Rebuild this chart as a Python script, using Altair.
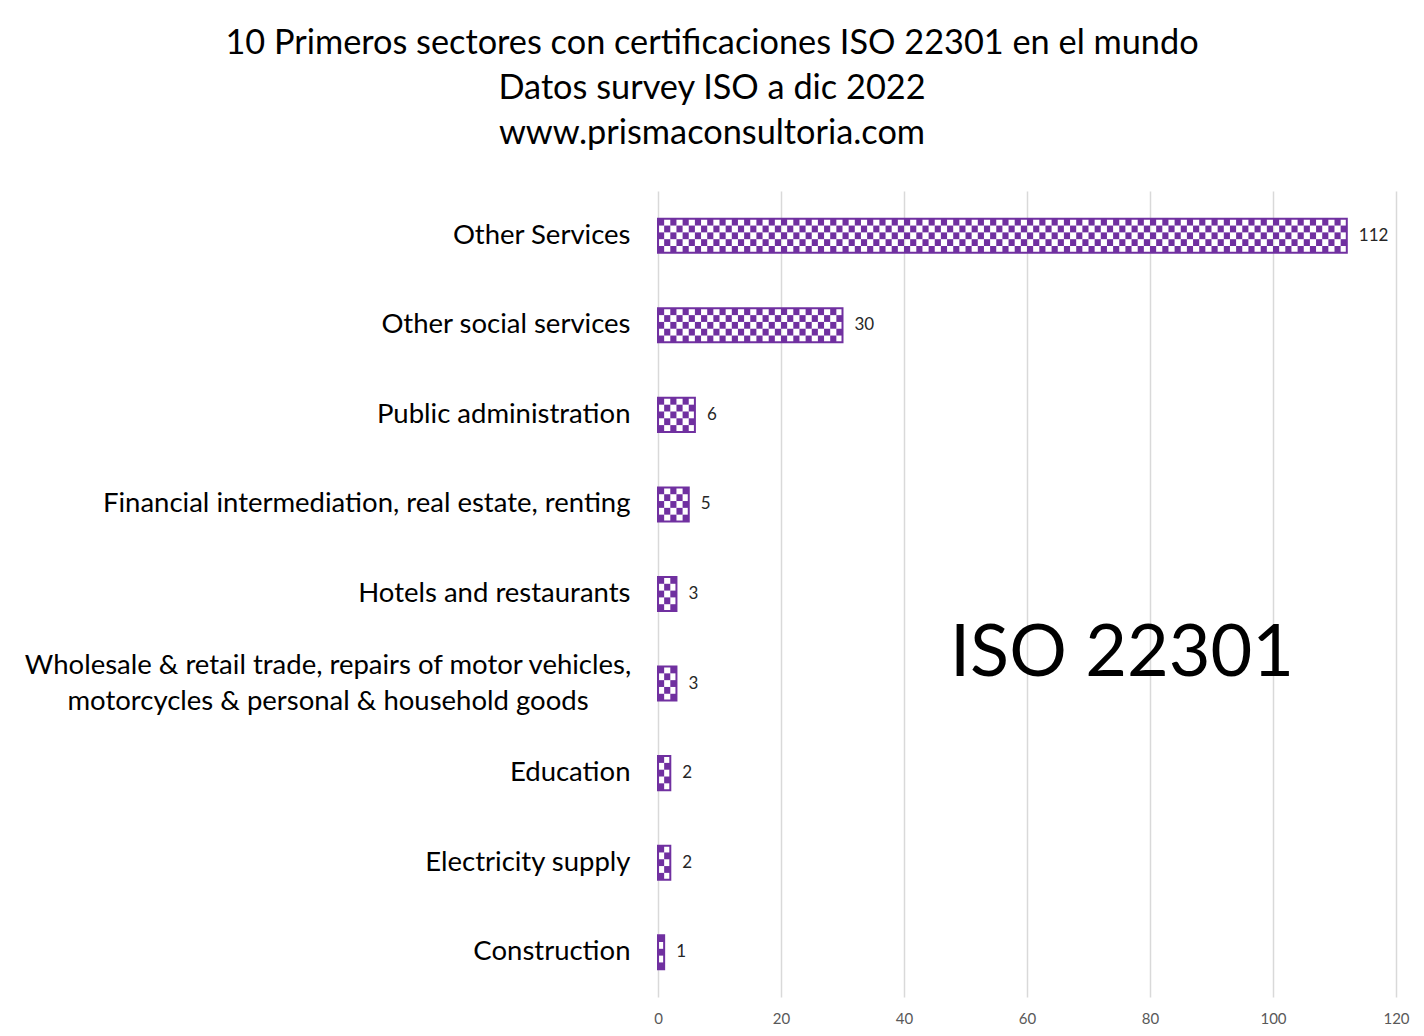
import altair as alt
import pandas as pd

categories = [
    "Other Services",
    "Other social services",
    "Public administration",
    "Financial intermediation, real estate, renting",
    "Hotels and restaurants",
    "Wholesale & retail trade, repairs of motor vehicles, motorcycles & personal & household goods",
    "Education",
    "Electricity supply",
    "Construction",
]
values = [112, 30, 6, 5, 3, 3, 2, 2, 1]
wrapped_sector = categories[5]
wrapped_lines = [
    "Wholesale & retail trade, repairs of motor vehicles,",
    "motorcycles & personal & household goods",
]
x_ticks = [0, 20, 40, 60, 80, 100, 120]
title_lines = [
    "10 Primeros sectores con certificaciones ISO 22301 en el mundo",
    "Datos survey ISO a dic 2022",
    "www.prismaconsultoria.com",
]
PURPLE = "#7030A0"
FONT = "Lato"
LABEL_SIZE = 27.5

df = pd.DataFrame({"sector": categories, "value": values})

# checkerboard cells (pattern fill) derived from each bar's value
ROWS = 5
cells = []
for c, v in zip(categories, values):
    for i in range(v):
        for j in range(ROWS):
            if (i + j) % 2 == 0:
                cells.append({"sector": c, "x0": i, "x1": i + 1, "row": j})
cells_df = pd.DataFrame(cells)

y_scale = alt.Scale(domain=categories, paddingInner=0.62, paddingOuter=0.31)
y_enc = alt.Y(
    "sector:N",
    sort=categories,
    scale=y_scale,
    axis=alt.Axis(
        title=None,
        domain=False,
        ticks=False,
        grid=False,
        labelFont=FONT,
        labelFontSize=LABEL_SIZE,
        labelColor="#000000",
        labelPadding=28,
        labelLimit=800,
        labelExpr="length(datum.label) > 60 ? '' : datum.label",
    ),
)
x_scale = alt.Scale(domain=[0, 120], nice=False, zero=True)
x_axis = alt.Axis(
    title=None,
    values=x_ticks,
    domain=False,
    ticks=False,
    grid=True,
    gridColor="#D9D9D9",
    gridWidth=1.5,
    labelFont=FONT,
    labelFontSize=15,
    labelColor="#595959",
    labelPadding=14,
    labelFlush=False,
)

base = alt.Chart(df)

checker = alt.Chart(cells_df).mark_rect(fill=PURPLE, strokeWidth=0).encode(
    y=y_enc,
    yOffset=alt.YOffset("row:O", scale=alt.Scale(paddingInner=0, paddingOuter=0)),
    x=alt.X("x0:Q", scale=x_scale, axis=x_axis),
    x2="x1:Q",
)

outline = base.mark_bar(fill="white", fillOpacity=0, stroke=PURPLE, strokeWidth=2).encode(
    y=y_enc,
    x=alt.X("value:Q", scale=x_scale, axis=x_axis),
)

labels = base.mark_text(
    align="left", baseline="middle", dx=12, font=FONT, fontSize=17, color="#262626"
).encode(
    y=y_enc,
    x=alt.X("value:Q", scale=x_scale, axis=x_axis),
    text="value:Q",
)

wrapped = alt.Chart(pd.DataFrame({"sector": [wrapped_sector]})).mark_text(
    text=wrapped_lines,
    align="center",
    baseline="middle",
    font=FONT,
    fontSize=LABEL_SIZE,
    lineHeight=36,
    dy=-18,
    color="#000000",
).encode(
    y=y_enc,
    x=alt.value(-330),
)

big = alt.Chart(pd.DataFrame({"t": ["ISO 22301"]})).mark_text(
    align="center", baseline="middle", font=FONT, fontSize=72, color="#000000"
).encode(
    x=alt.value(464),
    y=alt.value(463),
    text="t:N",
)

chart = (
    alt.layer(checker, outline, labels, wrapped, big)
    .properties(
        width=738,
        height=806,
        background="white",
        autosize=alt.AutoSizeParams(type="none"),
        padding={"left": 650, "top": 183, "right": 20, "bottom": 30},
        title=alt.TitleParams(
            text=title_lines,
            font=FONT,
            fontSize=34.3,
            fontWeight="normal",
            color="#000000",
            lineHeight=45,
            anchor="middle",
            frame="group",
            dx=-315,
            offset=40,
        ),
    )
    .configure_view(strokeWidth=0, stroke="transparent")
    .configure_axisY(grid=False, domain=False)
    .configure_axisX(domain=False)
)

chart.save("out.html", embed_options={"renderer": "svg", "actions": False})
